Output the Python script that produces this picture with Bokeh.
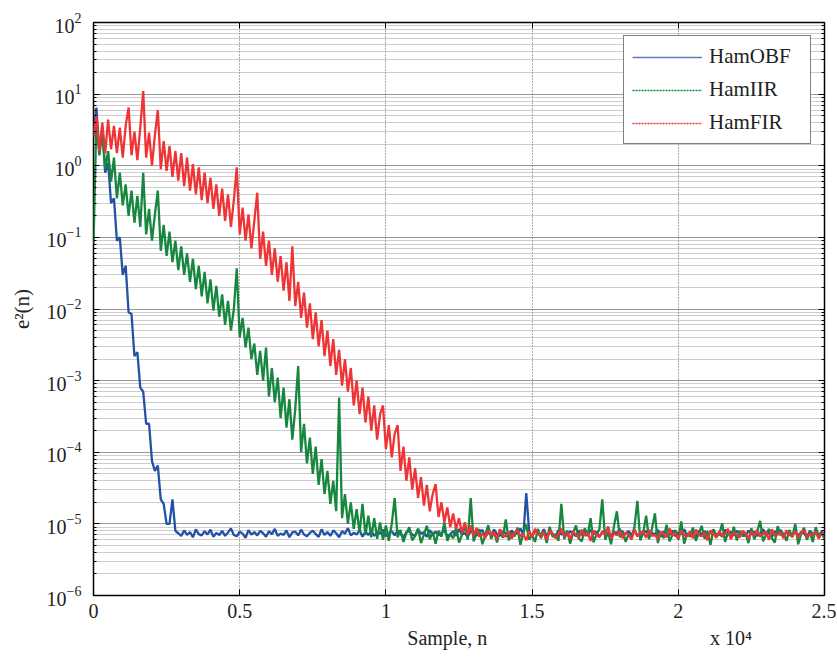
from bokeh.plotting import figure
from bokeh.models import (Range1d, FixedTicker, LinearAxis, Legend,
                          LegendItem)
from bokeh.embed import file_html
from bokeh.resources import INLINE

# ---------------- data ----------------
sample = list(range(0, 25001, 100))          # sample index n

x_tick_values = [0, 5000, 10000, 15000, 20000, 25000]
x_tick_labels = ["0", "0.5", "1", "1.5", "2", "2.5"]
y_tick_values = [1e-6, 1e-5, 1e-4, 1e-3, 1e-2, 1e-1, 1e0, 1e1, 1e2]

series_names = ["HamOBF", "HamIIR", "HamFIR"]

# HamOBF : n = 0 .. 2800
hamobf_decay = [
    3.0, 6.5, 1.5, 3.5, 0.8, 1.1, 0.3, 0.35, 0.09, 0.1,
    0.03, 0.04, 0.009, 0.0085, 0.0022, 0.0025, 0.0008, 0.0007, 0.00025, 0.00025,
    7.5e-5, 5.5e-5, 6.5e-5, 2.2e-5, 1.9e-5, 1.0e-5, 1.0e-5, 2.2e-5, 8e-6,
]
# HamOBF : n = 2900 .. 25000
hamobf_floor = [
    7.4e-6, 6.8e-6, 8.1e-6, 7.0e-6, 7.7e-6, 6.5e-6, 8.4e-6, 7.2e-6, 6.9e-6, 7.9e-6,
    7.1e-6, 8.3e-6, 6.6e-6, 7.5e-6, 7.0e-6, 8.0e-6, 6.8e-6, 7.6e-6, 8.6e-6, 7.0e-6,
    6.7e-6, 7.8e-6, 7.3e-6, 6.4e-6, 8.2e-6, 7.1e-6, 7.7e-6, 6.9e-6, 8.0e-6, 7.4e-6,
    6.6e-6, 7.9e-6, 7.2e-6, 8.5e-6, 6.8e-6, 7.3e-6, 7.0e-6, 8.1e-6, 6.5e-6, 7.6e-6,
    7.8e-6, 6.9e-6, 8.3e-6, 7.1e-6, 6.7e-6, 7.5e-6, 8.0e-6, 7.2e-6, 6.6e-6, 8.4e-6,
    7.0e-6, 7.7e-6, 6.8e-6, 8.1e-6, 7.4e-6, 6.5e-6, 7.9e-6, 7.3e-6, 8.7e-6, 6.9e-6,
    7.5e-6, 7.1e-6, 8.2e-6, 6.6e-6, 7.8e-6, 7.0e-6, 8.0e-6, 6.8e-6, 7.6e-6, 7.3e-6,
    8.3e-6, 6.7e-6, 7.4e-6, 7.9e-6, 6.9e-6, 8.1e-6, 7.2e-6, 6.5e-6, 7.7e-6, 8.0e-6,
    7.1e-6, 6.8e-6, 8.4e-6, 7.3e-6, 7.6e-6, 6.6e-6, 8.2e-6, 7.0e-6, 7.8e-6, 6.9e-6,
    7.5e-6, 8.1e-6, 6.7e-6, 7.2e-6, 7.9e-6, 6.8e-6, 8.5e-6, 7.1e-6, 7.4e-6, 6.6e-6,
    8.0e-6, 7.3e-6, 6.9e-6, 7.7e-6, 8.2e-6, 6.5e-6, 7.6e-6, 7.0e-6, 8.3e-6, 7.2e-6,
    6.8e-6, 7.9e-6, 7.4e-6, 6.7e-6, 8.1e-6, 7.1e-6, 7.5e-6, 8.6e-6, 6.9e-6, 2.7e-5,
    7.8e-6, 6.6e-6, 8.0e-6, 7.2e-6, 7.0e-6, 8.4e-6, 6.8e-6, 7.7e-6, 7.3e-6, 6.5e-6,
    8.2e-6, 7.1e-6, 7.6e-6, 6.9e-6, 7.9e-6, 7.4e-6, 6.7e-6, 8.1e-6, 7.0e-6, 7.5e-6,
    6.8e-6, 8.3e-6, 7.2e-6, 7.8e-6, 6.6e-6, 7.6e-6, 8.0e-6, 7.1e-6, 6.9e-6, 7.7e-6,
    7.4e-6, 8.5e-6, 6.7e-6, 7.3e-6, 7.9e-6, 7.0e-6, 8.2e-6, 6.8e-6, 7.6e-6, 7.2e-6,
    8.0e-6, 6.9e-6, 7.5e-6, 7.1e-6, 8.3e-6, 6.6e-6, 7.8e-6, 7.4e-6, 7.0e-6, 8.1e-6,
    6.7e-6, 7.6e-6, 7.2e-6, 8.4e-6, 6.9e-6, 7.7e-6, 7.3e-6, 6.5e-6, 8.0e-6, 7.1e-6,
    7.9e-6, 6.8e-6, 7.5e-6, 8.2e-6, 7.0e-6, 7.4e-6, 6.6e-6, 8.3e-6, 7.2e-6, 7.7e-6,
    6.9e-6, 8.0e-6, 7.3e-6, 7.6e-6, 6.7e-6, 8.1e-6, 7.1e-6, 7.8e-6, 6.8e-6, 7.4e-6,
    8.4e-6, 7.0e-6, 7.5e-6, 6.6e-6, 7.9e-6, 7.2e-6, 8.2e-6, 6.9e-6, 7.6e-6, 7.3e-6,
    7.0e-6, 8.1e-6, 6.8e-6, 7.7e-6, 7.4e-6, 6.5e-6, 8.0e-6, 7.2e-6, 7.5e-6, 6.9e-6,
    7.8e-6, 7.1e-6,
]

# HamIIR : n = 0 .. 10300
hamiir_decay = [
    0.08, 4.5, 1.4, 3.0, 0.9, 1.6, 0.6, 1.3, 0.35, 0.8,
    0.28, 0.55, 0.2, 0.45, 0.16, 0.38, 0.14, 0.8, 0.11, 0.25,
    0.09, 0.21, 0.45, 0.065, 0.15, 0.055, 0.12, 0.045, 0.09, 0.035,
    0.075, 0.03, 0.06, 0.024, 0.05, 0.019, 0.04, 0.015, 0.033, 0.012,
    0.026, 0.0095, 0.021, 0.0078, 0.016, 0.006, 0.013, 0.005, 0.01, 0.037,
    0.004, 0.0075, 0.0029, 0.0055, 0.002, 0.0033, 0.0012, 0.0026, 0.001, 0.0029,
    0.0006, 0.0015, 0.0005, 0.0011, 0.0003, 0.0008, 0.00022, 0.00055, 0.00015, 0.0004,
    0.0016, 0.0001, 0.00025, 7e-5, 0.00016, 5e-5, 0.00012, 3.5e-5, 8e-5, 2.6e-5,
    5.5e-5, 1.9e-5, 4e-5, 1.5e-5, 0.00058, 1.2e-5, 2.6e-5, 1.0e-5, 2.0e-5, 8.5e-6,
    1.6e-5, 7.5e-6, 1.9e-5, 7e-6, 1.3e-5, 6.5e-6, 1.2e-5, 6.2e-6, 1.05e-5, 6e-6,
    9.5e-6, 5.8e-6, 1.0e-5, 2.3e-5,
]
# HamIIR : n = 10400 .. 25000
hamiir_floor = [
    6.5e-6, 8.2e-6, 5.6e-6, 7.4e-6, 9.0e-6, 5.9e-6, 6.8e-6, 8.6e-6, 5.4e-6, 7.1e-6,
    9.4e-6, 6.1e-6, 7.7e-6, 5.3e-6, 8.0e-6, 6.6e-6, 1.05e-5, 5.8e-6, 7.2e-6, 6.3e-6,
    8.8e-6, 5.5e-6, 7.0e-6, 9.2e-6, 6.0e-6, 2.3e-5, 5.7e-6, 7.5e-6, 8.4e-6, 5.2e-6,
    6.9e-6, 9.6e-6, 6.2e-6, 7.8e-6, 5.5e-6, 8.3e-6, 6.4e-6, 1.15e-5, 5.9e-6, 7.3e-6,
    6.7e-6, 8.9e-6, 5.1e-6, 7.6e-6, 9.8e-6, 6.0e-6, 7.0e-6, 5.6e-6, 8.5e-6, 6.3e-6,
    7.9e-6, 5.4e-6, 9.1e-6, 6.6e-6, 7.2e-6, 5.8e-6, 1.9e-5, 6.1e-6, 8.1e-6, 5.3e-6,
    7.4e-6, 9.5e-6, 6.2e-6, 5.7e-6, 8.7e-6, 6.9e-6, 1.2e-5, 5.5e-6, 7.1e-6, 8.3e-6,
    2.2e-5, 6.0e-6, 7.7e-6, 5.2e-6, 9.3e-6, 1.5e-5, 6.5e-6, 8.0e-6, 5.6e-6, 7.2e-6,
    6.4e-6, 9.0e-6, 2.1e-5, 5.9e-6, 7.5e-6, 1.3e-5, 6.1e-6, 8.6e-6, 1.4e-5, 5.4e-6,
    7.8e-6, 6.3e-6, 9.7e-6, 5.7e-6, 7.0e-6, 8.2e-6, 6.0e-6, 1.08e-5, 5.3e-6, 7.4e-6,
    6.6e-6, 8.9e-6, 5.8e-6, 7.3e-6, 9.4e-6, 6.2e-6, 7.9e-6, 5.1e-6, 8.4e-6, 6.8e-6,
    7.1e-6, 1.02e-5, 5.6e-6, 7.6e-6, 6.4e-6, 9.1e-6, 5.9e-6, 8.0e-6, 6.7e-6, 7.3e-6,
    5.4e-6, 8.7e-6, 6.1e-6, 7.8e-6, 1.1e-5, 5.7e-6, 7.0e-6, 8.5e-6, 6.3e-6, 5.5e-6,
    9.3e-6, 6.9e-6, 7.5e-6, 5.8e-6, 8.2e-6, 6.5e-6, 1.0e-5, 5.2e-6, 7.2e-6, 8.8e-6,
    6.0e-6, 7.7e-6, 5.6e-6, 9.0e-6, 6.8e-6, 7.4e-6, 6.2e-6,
]

# HamFIR : n = 0 .. 13200
hamfir_decay = [
    2.5, 5.0, 1.6, 4.0, 1.5, 4.4, 1.7, 3.6, 1.5, 3.4,
    1.3, 3.6, 6.5, 1.4, 3.0, 1.2, 3.4, 11.0, 1.3, 2.9,
    1.0, 2.7, 6.0, 0.9, 2.2, 0.85, 1.9, 0.7, 1.6, 0.62,
    1.5, 0.52, 1.3, 0.45, 1.05, 0.4, 0.95, 0.33, 0.8, 0.3,
    0.68, 0.25, 0.55, 0.2, 0.48, 0.17, 0.4, 0.14, 0.33, 0.95,
    0.11, 0.26, 0.09, 0.21, 0.07, 0.17, 0.42, 0.05, 0.12, 0.04,
    0.09, 0.03, 0.07, 0.024, 0.055, 0.018, 0.045, 0.013, 0.075, 0.011,
    0.024, 0.0075, 0.017, 0.0055, 0.012, 0.0038, 0.009, 0.003, 0.007, 0.0022,
    0.005, 0.0016, 0.0038, 0.0012, 0.0027, 0.00085, 0.002, 0.0007, 0.0015, 0.00045,
    0.001, 0.00034, 0.0008, 0.00026, 0.0006, 0.0002, 0.00045, 0.00015, 0.00034, 0.00045,
    0.00011, 0.00024, 8.5e-5, 0.00018, 0.00024, 5.5e-5, 0.00012, 4e-5, 8.5e-5, 3e-5,
    6e-5, 2.3e-5, 4.5e-5, 1.8e-5, 3.5e-5, 1.5e-5, 2.6e-5, 3.6e-5, 1.25e-5, 2.0e-5,
    1.05e-5, 1.7e-5, 9e-6, 1.4e-5, 8.5e-6, 1.2e-5, 7.5e-6, 1.05e-5, 7e-6, 9.5e-6,
    6.8e-6, 8.8e-6, 6.6e-6,
]
# HamFIR : n = 13300 .. 25000
hamfir_floor = [
    7.3e-6, 6.4e-6, 8.1e-6, 6.9e-6, 7.6e-6, 6.1e-6, 8.4e-6, 7.0e-6, 6.6e-6, 7.8e-6,
    6.2e-6, 7.5e-6, 8.2e-6, 6.7e-6, 7.1e-6, 5.9e-6, 7.9e-6, 6.5e-6, 8.5e-6, 7.2e-6,
    6.8e-6, 7.7e-6, 6.0e-6, 8.0e-6, 7.4e-6, 6.3e-6, 7.1e-6, 8.6e-6, 6.6e-6, 7.5e-6,
    6.1e-6, 7.9e-6, 7.0e-6, 6.4e-6, 8.3e-6, 6.8e-6, 7.6e-6, 5.8e-6, 8.1e-6, 7.2e-6,
    6.5e-6, 7.8e-6, 7.0e-6, 9.2e-6, 6.2e-6, 7.4e-6, 6.9e-6, 8.0e-6, 6.3e-6, 7.6e-6,
    7.1e-6, 6.0e-6, 8.4e-6, 6.7e-6, 7.3e-6, 7.9e-6, 6.4e-6, 8.2e-6, 6.8e-6, 7.0e-6,
    6.2e-6, 7.7e-6, 7.2e-6, 6.5e-6, 8.6e-6, 6.9e-6, 7.4e-6, 6.1e-6, 8.0e-6, 7.1e-6,
    6.6e-6, 7.8e-6, 6.3e-6, 8.3e-6, 7.0e-6, 6.7e-6, 7.5e-6, 5.9e-6, 8.1e-6, 7.3e-6,
    6.4e-6, 7.9e-6, 6.8e-6, 7.2e-6, 8.5e-6, 6.1e-6, 7.6e-6, 7.0e-6, 6.5e-6, 8.0e-6,
    7.4e-6, 6.2e-6, 7.8e-6, 6.9e-6, 8.2e-6, 6.6e-6, 7.3e-6, 7.7e-6, 6.0e-6, 8.4e-6,
    6.8e-6, 7.1e-6, 7.6e-6, 6.3e-6, 8.1e-6, 7.0e-6, 6.7e-6, 7.9e-6, 6.4e-6, 7.5e-6,
    8.3e-6, 6.6e-6, 7.2e-6, 6.9e-6, 7.8e-6, 6.2e-6, 7.4e-6, 7.0e-6,
]

hamobf = hamobf_decay + hamobf_floor
hamiir = hamiir_decay + hamiir_floor
hamfir = hamfir_decay + hamfir_floor
assert len(hamobf) == len(sample), len(hamobf)
assert len(hamiir) == len(sample), len(hamiir)
assert len(hamfir) == len(sample), len(hamfir)

# bottom captions (axis title and the x10^4 multiplier), placed as labels
caption_pos = [12100, 21800]
caption_txt = ["Sample, n", "x 10\u2074"]

# ---------------- styling ----------------
FONT = "Liberation Serif"
BLUE = "#2152a6"
GREEN = "#17873f"
RED = "#ee3434"
TXT = "#222222"

p = figure(width=836, height=662,
           x_range=Range1d(0, 25000), y_range=Range1d(1e-6, 1e2),
           y_axis_type="log", output_backend="svg", toolbar_location=None,
           min_border_left=93, min_border_right=12, min_border_top=22,
           min_border_bottom=67)
p.background_fill_color = "white"
p.border_fill_color = "white"
p.outline_line_color = "black"
p.outline_line_width = 1.5

y_minor = [m * d for d in y_tick_values[:-1] for m in range(2, 10)]
y_ticker = FixedTicker(ticks=y_tick_values, minor_ticks=y_minor)
x_ticker = FixedTicker(ticks=x_tick_values, minor_ticks=[])
x_overrides = {v: l for v, l in zip(x_tick_values, x_tick_labels)}

xa = p.xaxis[0]
xa.ticker = x_ticker
xa.major_label_overrides = x_overrides
ya = p.yaxis[0]
ya.ticker = y_ticker
ya.axis_label = "e\u00b2(n)"

for ax in (xa, ya):
    ax.axis_line_color = None
    ax.major_tick_in = 6
    ax.major_tick_out = 0
    ax.minor_tick_in = 3
    ax.minor_tick_out = 0
    ax.major_tick_line_color = "black"
    ax.minor_tick_line_color = "black"
    ax.major_label_text_font = FONT
    ax.major_label_text_font_size = "20px"
    ax.major_label_text_color = TXT
    ax.axis_label_text_font = FONT
    ax.axis_label_text_font_size = "21px"
    ax.axis_label_text_font_style = "normal"
    ax.axis_label_text_color = TXT
xa.minor_tick_line_color = None
xa.major_label_standoff = 8
ya.major_label_standoff = 12
ya.axis_label_standoff = 10

# second row under the x axis: "Sample, n" and "x 10^4"
cap = LinearAxis(ticker=FixedTicker(ticks=caption_pos, minor_ticks=[]),
                 major_label_overrides={v: t for v, t in zip(caption_pos, caption_txt)},
                 axis_line_color=None, major_tick_line_color=None,
                 minor_tick_line_color=None, major_tick_in=0, major_tick_out=0,
                 major_label_standoff=6, major_label_text_font=FONT,
                 major_label_text_font_size="20px", major_label_text_color=TXT)
p.add_layout(cap, "below")

# tick-only axes on the top and right (labels hidden)
top = LinearAxis(ticker=x_ticker, major_label_text_font_size="1px",
                 major_label_text_alpha=0.0,
                 major_label_standoff=0, axis_line_color=None,
                 major_tick_in=6, major_tick_out=0, minor_tick_line_color=None)
right = LinearAxis(ticker=y_ticker, major_label_text_font_size="1px",
                   major_label_text_alpha=0.0,
                   major_label_standoff=0, axis_line_color=None,
                   major_tick_in=6, major_tick_out=0, minor_tick_in=3,
                   minor_tick_out=0)
p.add_layout(top, "above")
p.add_layout(right, "right")

p.xgrid.grid_line_color = "#555555"
p.xgrid.grid_line_dash = "1 2"
p.xgrid.grid_line_width = 1
p.ygrid.grid_line_color = "#333333"
p.ygrid.grid_line_dash = "1 1"
p.ygrid.grid_line_width = 1
p.ygrid.minor_grid_line_color = "#9a9a9a"
p.ygrid.minor_grid_line_dash = "1 1"
p.ygrid.minor_grid_line_width = 1

p.line(sample, hamobf, line_color=BLUE, line_width=2.3)
p.line(sample, hamiir, line_color=GREEN, line_width=2.3)
p.line(sample, hamfir, line_color=RED, line_width=2.3)

# legend samples: thin lines, dotted for the IIR / FIR curves
k_obf = p.line(sample[:1], hamobf[:1], line_color=BLUE, line_width=1.5,
               line_alpha=0.75, visible=True)
k_iir = p.line(sample[:1], hamiir[:1], line_color=GREEN, line_width=1.5,
               line_dash="2 1")
k_fir = p.line(sample[:1], hamfir[:1], line_color=RED, line_width=1.5,
               line_dash="2 1")

legend = Legend(items=[LegendItem(label=series_names[0], renderers=[k_obf]),
                       LegendItem(label=series_names[1], renderers=[k_iir]),
                       LegendItem(label=series_names[2], renderers=[k_fir])],
                location="top_right", border_line_color="black",
                border_line_width=1.3, background_fill_color="white",
                background_fill_alpha=1.0, label_text_font=FONT,
                label_text_font_size="21px", label_text_color=TXT,
                glyph_width=70, glyph_height=20, label_width=93,
                spacing=8, padding=8, margin=13, label_standoff=7)
p.add_layout(legend)

open("out.html", "w").write(file_html(p, INLINE))
